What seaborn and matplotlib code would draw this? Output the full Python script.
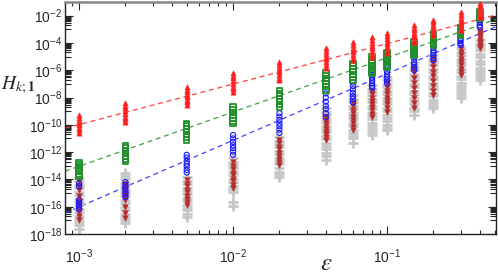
import numpy as np
import pandas as pd
import matplotlib
matplotlib.use('Agg')
import matplotlib.pyplot as plt
import matplotlib.ticker as mticker
import seaborn as sns

# DATA (values stored as log10 of H_{k;1}, one list per epsilon)
eps = [0.001, 0.002, 0.005, 0.01, 0.02, 0.04, 0.06, 0.08, 0.1, 0.15, 0.2, 0.3, 0.4]

red_exp = [
    [-9.3, -9.5, -9.7, -9.85, -10.0, -10.2, -10.4, -10.6],
    [-8.4, -8.6, -8.8, -9.0, -9.2, -9.4, -9.6, -9.8],
    [-7.25, -7.45, -7.6, -7.8, -7.95, -8.15, -8.35, -8.55],
    [-6.2, -6.4, -6.6, -6.8, -7.0, -7.2, -7.4, -7.6],
    [-5.4, -5.6, -5.8, -5.95, -6.15, -6.35, -6.55, -6.7],
    [-4.4, -4.6, -4.8, -5.0, -5.2, -5.4, -5.6, -5.8],
    [-3.95, -4.15, -4.35, -4.55, -4.7, -4.9, -5.1, -5.25],
    [-3.6, -3.8, -4.0, -4.2, -4.4, -4.6, -4.8, -5.05],
    [-3.3, -3.5, -3.7, -3.9, -4.1, -4.3, -4.5, -4.75],
    [-2.7, -2.9, -3.05, -3.25, -3.4, -3.6, -3.75, -3.95],
    [-2.35, -2.5, -2.65, -2.8, -2.95, -3.1, -3.25, -3.45],
    [-1.75, -1.95, -2.15, -2.3, -2.5, -2.7, -2.9, -3.05],
    [-1.1, -1.25, -1.4, -1.55, -1.7, -1.85, -2.0, -2.1],
]
green_exp = [
    [-12.75, -12.9, -13.05, -13.25, -13.4, -13.6, -13.8],
    [-11.5, -11.7, -11.9, -12.1, -12.3, -12.5, -12.7],
    [-9.9, -10.1, -10.3, -10.5, -10.7, -10.9, -11.1],
    [-8.7, -8.9, -9.1, -9.3, -9.5, -9.7, -9.9],
    [-7.5, -7.7, -7.9, -8.1, -8.3, -8.5, -8.7],
    [-6.2, -6.4, -6.6, -6.8, -7.0, -7.2, -7.45],
    [-5.5, -5.7, -5.9, -6.1, -6.3, -6.5, -6.7],
    [-5.05, -5.25, -5.45, -5.65, -5.85, -6.05, -6.2],
    [-4.7, -4.85, -5.05, -5.2, -5.4, -5.6, -5.75],
    [-3.95, -4.1, -4.25, -4.45, -4.6, -4.75, -4.9],
    [-3.3, -3.45, -3.6, -3.75, -3.85, -4.0, -4.15],
    [-2.9, -3.0, -3.1, -3.2, -3.3, -3.4, -3.45],
    [-1.75, -1.8, -1.9, -1.95, -2.05, -2.1, -2.2],
]
blue_exp = [
    [-14.3, -14.5, -15.5, -15.7, -15.85, -16.0, -16.2],
    [-14.2, -14.4, -14.55, -14.75, -14.95, -15.1, -15.3],
    [-12.2, -12.4, -12.65, -12.85, -13.05, -13.3, -13.5],
    [-10.75, -11.0, -11.25, -11.5, -11.7, -11.95, -12.2],
    [-9.15, -9.4, -9.65, -9.9, -10.1, -10.35, -10.6],
    [-7.7, -8.0, -8.3, -8.6, -8.85, -9.15, -9.45],
    [-6.9, -7.15, -7.4, -7.65, -7.9, -8.1, -8.35],
    [-6.15, -6.35, -6.55, -6.75, -6.95, -7.15, -7.3],
    [-5.65, -5.85, -6.1, -6.3, -6.5, -6.75, -6.95],
    [-4.75, -4.95, -5.15, -5.4, -5.6, -5.8, -6.0],
    [-4.15, -4.35, -4.55, -4.7, -4.9, -5.1, -5.25],
    [-3.2, -3.35, -3.5, -3.7, -3.85, -4.0, -4.15],
    [-1.85, -2.0, -2.2, -2.35, -2.5, -2.7, -2.85],
]
brown_exp = [
    [-14.1, -14.45, -14.8, -15.2, -15.55, -15.9, -16.3, -16.65, -17.0],
    [-14.3, -14.55, -14.8, -15.05, -15.3, -15.5, -16.05, -16.45, -16.8],
    [-14.05, -14.3, -14.5, -14.75, -14.95, -15.2, -15.4, -15.65, -15.85],
    [-12.75, -13.0, -13.25, -13.5, -13.7, -13.95, -14.15, -14.4, -14.6],
    [-11.1, -11.35, -11.6, -11.8, -12.05, -12.3, -12.5, -12.75, -12.95],
    [-9.45, -9.65, -9.85, -10.05, -10.3, -10.5, -10.7, -10.9, -11.1],
    [-8.4, -8.65, -8.9, -9.15, -9.4, -9.65, -9.9, -10.15, -10.4],
    [-7.5, -7.75, -8.0, -8.25, -8.5, -8.7, -8.95, -9.2, -9.45],
    [-6.95, -7.2, -7.5, -7.75, -8.0, -8.25, -8.5, -8.8, -9.05],
    [-5.8, -6.15, -6.55, -6.9, -7.3, -7.65, -8.05, -8.4, -8.8],
    [-5.1, -5.45, -5.75, -6.1, -6.45, -6.8, -7.15, -7.5, -7.8],
    [-4.4, -4.65, -4.9, -5.15, -5.4, -5.65, -5.9, -6.15, -6.35],
    [-3.1, -3.25, -3.4, -3.55, -3.75, -3.9, -4.05, -4.25, -4.4],
]
gray_exp = [
    [-13.9, -14.15, -14.4, -14.65, -14.9, -15.15, -15.4, -15.65, -15.9, -16.15, -16.4, -16.65, -16.9, -17.15, -17.35, -17.6],
    [-13.5, -13.75, -14.0, -14.25, -14.5, -14.75, -15.0, -15.25, -15.5, -15.75, -16.0, -16.25, -16.5, -16.75, -17.0, -17.2],
    [-13.85, -14.1, -14.35, -14.6, -14.85, -15.1, -15.35, -15.6, -15.85, -16.1, -16.25, -16.5, -16.75],
    [-12.45, -12.7, -12.95, -13.2, -13.45, -13.7, -13.95, -14.2, -14.45, -14.7, -14.9, -15.65, -15.95],
    [-10.9, -11.15, -11.4, -11.65, -11.9, -12.15, -12.4, -12.65, -12.9, -13.15, -13.45, -13.6, -13.8],
    [-8.8, -9.05, -9.3, -9.55, -9.8, -10.05, -10.3, -10.55, -10.8, -11.05, -11.3, -11.55, -11.8, -12.05, -12.3, -12.6],
    [-7.85, -8.1, -8.35, -8.6, -8.85, -9.1, -9.35, -9.6, -9.85, -10.1, -10.35, -10.6, -10.85, -11.0, -11.35],
    [-7.1, -7.35, -7.6, -7.85, -8.1, -8.35, -8.6, -8.85, -9.1, -9.35, -9.6, -9.85, -10.1, -10.3, -10.55, -10.75],
    [-6.5, -6.75, -7.0, -7.25, -7.5, -7.75, -8.0, -8.25, -8.5, -8.75, -9.0, -9.25, -9.5, -9.75, -10.0, -10.2, -10.4],
    [-5.5, -5.75, -6.0, -6.25, -6.5, -6.75, -7.0, -7.25, -7.5, -7.75, -8.0, -8.25, -8.5, -8.75, -9.0, -9.3],
    [-4.9, -5.15, -5.4, -5.65, -5.9, -6.15, -6.4, -6.65, -6.9, -7.15, -7.4, -7.65, -7.9, -8.15, -8.4, -8.6, -8.8],
    [-4.4, -4.65, -4.9, -5.15, -5.4, -5.65, -5.9, -6.15, -6.4, -6.65, -6.9, -7.15, -7.4, -7.6, -7.85, -8.05],
    [-3.8, -4.05, -4.3, -4.55, -4.8, -5.05, -5.3, -5.55, -5.8, -6.05, -6.25, -6.5, -6.75],
]

# dashed reference lines (end points, log10)
line_eps = [8.1e-4, 0.51]
red_line_exp = [-10.25, -1.95]
green_line_exp = [-13.4, -2.27]
blue_line_exp = [-16.46, -2.8]


def to_frame(exps):
    rows = []
    for e, vals in zip(eps, exps):
        for v in vals:
            rows.append((e, 10.0 ** v))
    return pd.DataFrame(rows, columns=['eps', 'H'])


sns.set_style('ticks')
plt.rcParams['font.family'] = ['Liberation Sans', 'DejaVu Sans']
plt.rcParams['mathtext.fontset'] = 'stix'

fig = plt.figure(figsize=(4.98, 2.75), dpi=100)
ax = fig.add_axes([65 / 498, 1 - 234 / 275, 431 / 498, 232 / 275])

# dashed lines
for yl, col in [(red_line_exp, '#ff4040'), (green_line_exp, '#40a040'), (blue_line_exp, '#4040ff')]:
    sns.lineplot(x=line_eps, y=[10.0 ** v for v in yl], color=col, lw=0.9, ax=ax, zorder=1)
for l in ax.lines:
    l.set_dashes((4, 3))

# markers
sns.scatterplot(data=to_frame(gray_exp), x='eps', y='H', marker='+', s=55,
                color='#c6c6c6', linewidth=2.0, ax=ax, zorder=2)
sns.scatterplot(data=to_frame(brown_exp), x='eps', y='H', marker='v', s=16,
                color='#b02a2a', edgecolor='#c04040', linewidth=0.5, ax=ax, zorder=3)
sns.scatterplot(data=to_frame(blue_exp), x='eps', y='H', marker='o', s=14,
                facecolor='none', edgecolor='#1a1aff', linewidth=0.8, ax=ax, zorder=4)
sns.scatterplot(data=to_frame(green_exp), x='eps', y='H', marker='s', s=16,
                facecolor='none', edgecolor='#22902a', linewidth=1.3, ax=ax, zorder=5)
sns.scatterplot(data=to_frame(red_exp), x='eps', y='H', marker='^', s=14,
                color='#ff1010', edgecolor='#ff3030', linewidth=0.5, ax=ax, zorder=6)

ax.set_xscale('log')
ax.set_yscale('log')
ax.set_xlim(8.1e-4, 0.51)
ax.set_ylim(1e-18, 1e-1)

# ticks
ax.xaxis.set_major_locator(mticker.FixedLocator([1e-3, 1e-2, 1e-1]))
ax.xaxis.set_major_formatter(mticker.FixedFormatter(
    [r'$\mathregular{10^{-3}}$', r'$\mathregular{10^{-2}}$', r'$\mathregular{10^{-1}}$']))
ax.xaxis.set_minor_locator(mticker.LogLocator(base=10, subs=np.arange(2, 10), numticks=20))
ax.xaxis.set_minor_formatter(mticker.NullFormatter())

ymaj = [10.0 ** e for e in range(-18, -1, 2)]
ax.yaxis.set_major_locator(mticker.FixedLocator(ymaj))
ax.yaxis.set_major_formatter(mticker.FixedFormatter(
    [r'$\mathregular{10^{%d}}$' % e for e in range(-18, -1, 2)]))
ymin = [m * 10.0 ** (e - 1) for e in range(-16, 0, 2) for m in range(1, 10)]
ax.yaxis.set_minor_locator(mticker.FixedLocator(ymin))
ax.yaxis.set_minor_formatter(mticker.NullFormatter())

ax.tick_params(which='both', direction='in', top=True, right=True, width=0.8, labelsize=10)
ax.tick_params(axis='x', which='major', length=6, pad=10)
ax.tick_params(axis='x', which='minor', length=3)
ax.tick_params(axis='y', which='major', length=6, pad=2)
ax.tick_params(axis='y', which='minor', length=4)

for s in ax.spines.values():
    s.set_linewidth(1.0)
    s.set_color('#222222')
ax.spines['top'].set_color('#888888')
ax.spines['top'].set_linewidth(1.8)

ax.set_xlabel('')
ax.set_ylabel('')
ax.text(-0.11, 0.64, r'$H_{k;\mathbf{1}}$', transform=ax.transAxes, fontsize=14,
        ha='center', va='center')
ax.text(0.606, -0.125, r'$\varepsilon$', transform=ax.transAxes, fontsize=18,
        ha='center', va='center')

fig.savefig('out.png', dpi=100)
